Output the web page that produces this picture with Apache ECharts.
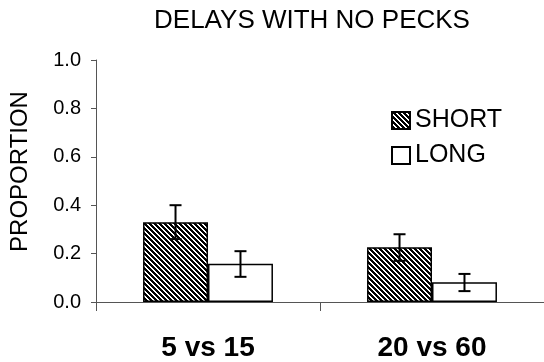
<!DOCTYPE html>
<html><head><meta charset="utf-8">
<script src="https://cdn.jsdelivr.net/npm/echarts@6/dist/echarts.min.js"></script>
<style>html,body{margin:0;padding:0;background:#fff}#c{width:544px;height:362px}</style>
</head><body><div id="c"></div>
<script>
const categories = ['5 vs 15', '20 vs 60'];
const seriesNames = ['SHORT', 'LONG'];
const shortValues = [0.33, 0.226];
const shortLow = [0.26, 0.17];
const shortHigh = [0.40, 0.28];
const longValues = [0.158, 0.082];
const longLow = [0.104, 0.045];
const longHigh = [0.21, 0.116];
const yTickLabels = ['0.0', '0.2', '0.4', '0.6', '0.8', '1.0'];

function hatchCanvas() {
  const n = 5, c = document.createElement('canvas');
  c.width = n; c.height = n;
  const ctx = c.getContext('2d');
  ctx.fillStyle = '#fff'; ctx.fillRect(0, 0, n, n);
  ctx.fillStyle = '#000';
  for (let y = 0; y < n; y++) for (let x = 0; x < n; x++) {
    if ((((x - y) % n) + n) % n < 3) ctx.fillRect(x, y, 1, 1);
  }
  return c;
}
const hatch = { image: hatchCanvas(), repeat: 'repeat' };
const GAP = 0.42;

function errRender(side) {
  return function (params, api) {
    const i = api.value(0), lo = api.value(1), hi = api.value(2);
    const base = api.coord([i, 0]);
    const band = api.size([1, 0])[0];
    const bw = band * (1 - GAP) / 2;
    const x = base[0] + (side === 0 ? -bw / 2 : bw / 2);
    const yLo = api.coord([i, lo])[1], yHi = api.coord([i, hi])[1];
    const cap = 6;
    const style = { stroke: '#000', lineWidth: 2 };
    return { type: 'group', children: [
      { type: 'line', shape: { x1: x, y1: yLo, x2: x, y2: yHi }, style },
      { type: 'line', shape: { x1: x - cap, y1: yHi, x2: x + cap, y2: yHi }, style },
      { type: 'line', shape: { x1: x - cap, y1: yLo, x2: x + cap, y2: yLo }, style }
    ] };
  };
}

const chart = echarts.init(document.getElementById('c'), null, { renderer: 'canvas' });
const font = 'Liberation Sans, Arial, Helvetica, sans-serif';
chart.setOption({
  animation: false,
  backgroundColor: '#fff',
  title: {
    text: 'DELAYS WITH NO PECKS', left: 307, top: 3, textAlign: 'center',
    textStyle: { fontFamily: font, fontSize: 26, fontWeight: 'normal', color: '#000' }
  },
  legend: {
    data: seriesNames, orient: 'vertical', left: 386, top: 103, itemGap: 10,
    itemWidth: 18, itemHeight: 17, icon: 'rect',
    textStyle: { fontFamily: font, fontSize: 25, color: '#000', lineHeight: 25 }
  },
  graphic: [{
    type: 'text', x: 20.5, y: 171.5, rotation: Math.PI / 2,
    style: { text: 'PROPORTION', fontFamily: font, fontSize: 24, fill: '#000', align: 'center', verticalAlign: 'middle' }
  }],
  grid: { left: 96, top: 60, width: 452, height: 243 },
  xAxis: {
    type: 'category', data: categories,
    axisLine: { lineStyle: { color: '#555', width: 1 } },
    axisTick: { show: true, length: 9, alignWithLabel: false, lineStyle: { color: '#555' } },
    axisLabel: { fontFamily: font, fontSize: 28, fontWeight: 'bold', color: '#000', margin: 32 }
  },
  yAxis: {
    type: 'value', min: 0, max: 1, interval: 0.2,
    axisLine: { show: true, lineStyle: { color: '#555', width: 1 } },
    axisTick: { show: true, length: 5, lineStyle: { color: '#555' } },
    splitLine: { show: false },
    axisLabel: {
      fontFamily: font, fontSize: 20, color: '#000', margin: 15,
      formatter: v => yTickLabels[Math.round(v / 0.2)]
    }
  },
  series: [
    { name: 'SHORT', type: 'bar', data: shortValues, barGap: '0%', barCategoryGap: (GAP * 100) + '%',
      itemStyle: { color: hatch, borderColor: '#000', borderWidth: 1.5 } },
    { name: 'LONG', type: 'bar', data: longValues, barGap: '0%', barCategoryGap: (GAP * 100) + '%',
      itemStyle: { color: '#fff', borderColor: '#000', borderWidth: 1.5 } },
    { type: 'custom', renderItem: errRender(0), z: 5,
      data: categories.map((c, i) => [i, shortLow[i], shortHigh[i]]), encode: { x: 0, y: [1, 2] } },
    { type: 'custom', renderItem: errRender(1), z: 5,
      data: categories.map((c, i) => [i, longLow[i], longHigh[i]]), encode: { x: 0, y: [1, 2] } }
  ]
});
</script></body></html>
